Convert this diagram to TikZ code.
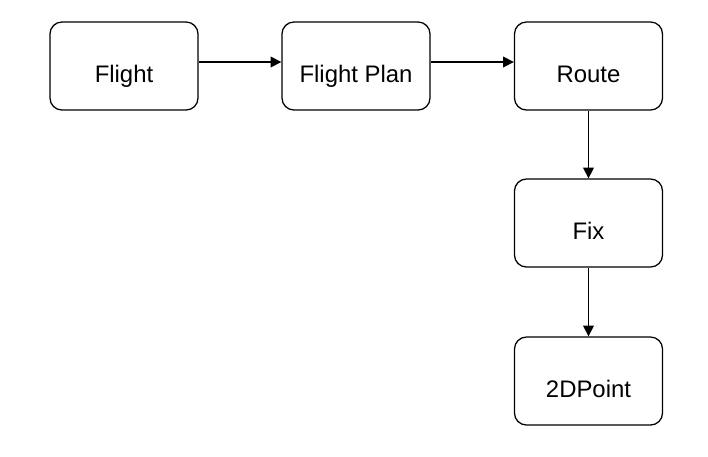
\documentclass[tikz,border=0pt]{standalone}
\usepackage{fontspec}
\setmainfont{Liberation Sans}
\usetikzlibrary{arrows.meta}
\begin{document}
\begin{tikzpicture}[x=0.025cm, y=-0.025cm,
  box/.style={rectangle, draw, rounded corners=0.3cm, line width=0.9pt, minimum width=3.7cm, minimum height=2.2cm, text height=0.8cm, text depth=0cm, font=\fontsize{17}{20}\selectfont},
  link/.style={-{Triangle[length=0.27cm, width=0.27cm]}, line width=0.9pt}]
  \useasboundingbox (0, 0) rectangle (708, 456);
  % Nodes
  \node (flight) [box] at (124, 66) {Flight};
  \node (plan) [box] at (356, 66) {Flight Plan};
  \node (route) [box] at (588.5, 66) {Route};
  \node (fix) [box] at (588.5, 223) {Fix};
  \node (point) [box] at (588.5, 381) {2DPoint};
  % Arrows
  \draw[link] ([yshift=0.1cm]flight.east) -- ([yshift=0.1cm]plan.west);
  \draw[link] ([yshift=0.1cm]plan.east) -- ([yshift=0.1cm]route.west);
  \draw[link] (route) -- (fix);
  \draw[link] (fix) -- (point);
\end{tikzpicture}
\end{document}
